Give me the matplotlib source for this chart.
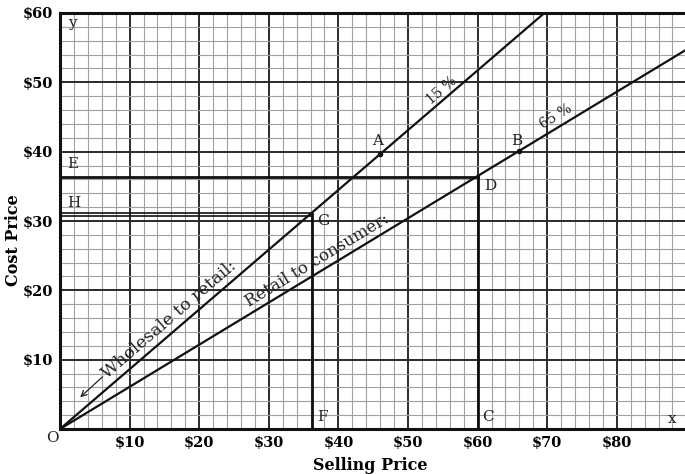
import matplotlib
matplotlib.use("Agg")
import matplotlib.pyplot as plt
import numpy as np

# ---- data ----
x_ticks = [10, 20, 30, 40, 50, 60, 70, 80]
x_tick_labels = ["$10", "$20", "$30", "$40", "$50", "$60", "$70", "$80"]
y_ticks = [10, 20, 30, 40, 50, 60]
y_tick_labels = ["$10", "$20", "$30", "$40", "$50", "$60"]

# lines from origin (selling price, cost price)
wholesale_x = [0, 69.6]          # 15 % markup line
wholesale_y = [0, 60.0]
retail_x = [0, 89.8]             # 65 % markup line
retail_y = [0, 54.6]

point_A = (46.0, 39.7)
point_B = (66.0, 40.1)
point_D = (60.0, 36.4)
point_G = (36.2, 31.0)
H_double = [30.75, 31.2]

serif = "DejaVu Serif"
fig = plt.figure(figsize=(6.85, 4.74), dpi=100)
ax = fig.add_axes([60/685, 1-429/474, 1-60/685, (429-13)/474])
ax.set_xlim(0, 89.8)
ax.set_ylim(0, 60)

# grid
for v in np.arange(2, 90, 2):
    major = (v % 10 == 0)
    ax.axvline(v, color="#2a2a2a" if major else "#a0a0a0", lw=1.4 if major else 0.8, zorder=1)
for v in np.arange(2, 60, 2):
    major = (v % 10 == 0)
    ax.axhline(v, color="#2a2a2a" if major else "#a0a0a0", lw=1.4 if major else 0.8, zorder=1)

for s in ["left", "bottom", "top"]:
    ax.spines[s].set_linewidth(2.2)
    ax.spines[s].set_color("#111")
ax.spines["right"].set_visible(False)

ax.plot(wholesale_x, wholesale_y, color="#111", lw=1.6, zorder=3)
ax.plot(retail_x, retail_y, color="#111", lw=1.6, zorder=3)

# construction lines
ax.plot([0, point_D[0]], [point_D[1], point_D[1]], color="#111", lw=2.0, zorder=3)
ax.plot([point_D[0], point_D[0]], [0, point_D[1]], color="#111", lw=2.0, zorder=3)
for h in H_double:
    ax.plot([0, point_G[0]], [h, h], color="#111", lw=1.2, zorder=3)
ax.plot([point_G[0], point_G[0]], [0, point_G[1]], color="#111", lw=2.0, zorder=3)

ax.plot(*point_A, "o", color="#111", ms=3, zorder=4)
ax.plot(*point_B, "o", color="#111", ms=3, zorder=4)

ax.set_xticks(x_ticks)
ax.set_xticklabels(x_tick_labels, fontfamily=serif, fontweight="bold", fontsize=10.5)
ax.set_yticks(y_ticks)
ax.set_yticklabels(y_tick_labels, fontfamily=serif, fontweight="bold", fontsize=10.5)
ax.tick_params(length=0, pad=5)

fig.text(370/685, 1-466/474, "Selling Price", ha="center", va="center",
         fontfamily=serif, fontweight="bold", fontsize=11.5)
fig.text(14/685, 1-240/474, "Cost Price", ha="center", va="center", rotation=90,
         fontfamily=serif, fontweight="bold", fontsize=11.5)

lab = dict(fontfamily=serif, fontsize=11, color="#222", zorder=5)
ax.text(1.2, 58.6, "y", ha="left", va="center", **lab)
ax.text(88.5, 1.5, "x", ha="right", va="center", **lab)
ax.text(-1.1, -1.3, "O", ha="center", va="center", clip_on=False, **lab)
ax.text(1.0, 38.2, "E", ha="left", va="center", **lab)
ax.text(1.0, 32.6, "H", ha="left", va="center", **lab)
ax.text(36.9, 1.8, "F", ha="left", va="center", **lab)
ax.text(60.7, 1.8, "C", ha="left", va="center", **lab)
ax.text(37.0, 30.0, "G", ha="left", va="center", **lab)
ax.text(61.0, 35.0, "D", ha="left", va="center", **lab)
ax.text(45.6, 41.6, "A", ha="center", va="center", **lab)
ax.text(65.6, 41.6, "B", ha="center", va="center", **lab)


def along(x, line_x, line_y, text, size, offset):
    slope = line_y[1] / line_x[1]
    y = x * slope
    p0 = ax.transData.transform((0, 0))
    p1 = ax.transData.transform((line_x[1], line_y[1]))
    ang = np.degrees(np.arctan2(p1[1] - p0[1], p1[0] - p0[0]))
    ax.annotate(text, xy=(x, y), xytext=(-offset * np.sin(np.radians(ang)),
                                         offset * np.cos(np.radians(ang))),
                textcoords="offset points", rotation=ang, rotation_mode="anchor",
                ha="center", va="bottom", fontfamily=serif, fontsize=size,
                color="#222", zorder=5)


along(55.6, wholesale_x, wholesale_y, "15 %", 10, 1.0)
along(72.0, retail_x, retail_y, "65 %", 10, 2.5)
along(16.8, wholesale_x, wholesale_y, "Wholesale to retail:", 12.5, 2.2)
along(37.8, retail_x, retail_y, "Retail to consumer:", 12, 1.5)

ax.annotate("", xy=(2.6, 4.3), xytext=(6.4, 7.8),
            arrowprops=dict(arrowstyle="->", color="#222", lw=0.9), zorder=5)

fig.savefig("out.png", dpi=100, facecolor="white")
